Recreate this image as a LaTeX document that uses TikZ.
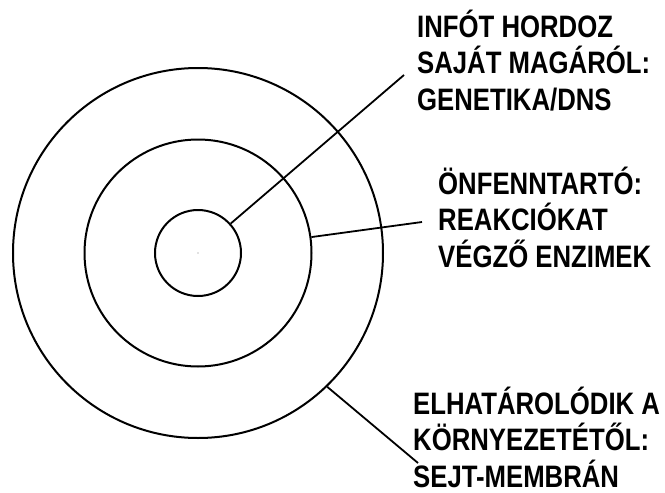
\documentclass[tikz,border=0pt]{standalone}
\usepackage{fontspec}
\newfontfamily\labelfont[FakeStretch=0.83]{Liberation Sans}
\usepackage{tikz}
\usetikzlibrary{positioning}

\begin{document}
\begin{tikzpicture}[x=1pt,y=-1pt]
                    \tikzstyle{every node}+=[inner sep=0pt]
                    \tikzstyle{ring}=[draw=black, circle, line width=2pt]
                    \tikzstyle{lbl}=[font=\labelfont\bfseries\fontsize{31}{36.5}\selectfont, align=left, anchor=base west]
                    \tikzstyle{pointer}=[draw=black, line width=1.8pt]
                    \useasboundingbox (0,0) rectangle (665,493);
                    \node [ring, minimum size=370pt] (membrane) at (198,253) {};
                    \node [ring, minimum size=227pt] (enzymes) at (198,253) {};
                    \node [ring, minimum size=86pt] (dna) at (198,253) {};
                    \fill [gray] (dna.center) circle (0.7);
                    \node [lbl] (dnatext) at (417,110) {INFÓT HORDOZ\\SAJÁT MAGÁRÓL:\\GENETIKA/DNS};
                    \node [lbl] (enzymetext) at (438,267) {ÖNFENNTARTÓ:\\REAKCIÓKAT\\VÉGZŐ ENZIMEK};
                    \node [lbl] (membranetext) at (413,487) {ELHATÁROLÓDIK A\\KÖRNYEZETÉTŐL:\\SEJT-MEMBRÁN};
                    \coordinate (dnaend) at (404,75);
                    \coordinate (enzymeend) at (422,222);
                    \coordinate (membraneend) at (418,463);
                    \draw [pointer] (dna.42) -- (dnaend);
                    \draw [pointer] (enzymes.8) -- (enzymeend);
                    \draw [pointer] (membrane.-46) -- (membraneend);
\end{tikzpicture}
\end{document}
